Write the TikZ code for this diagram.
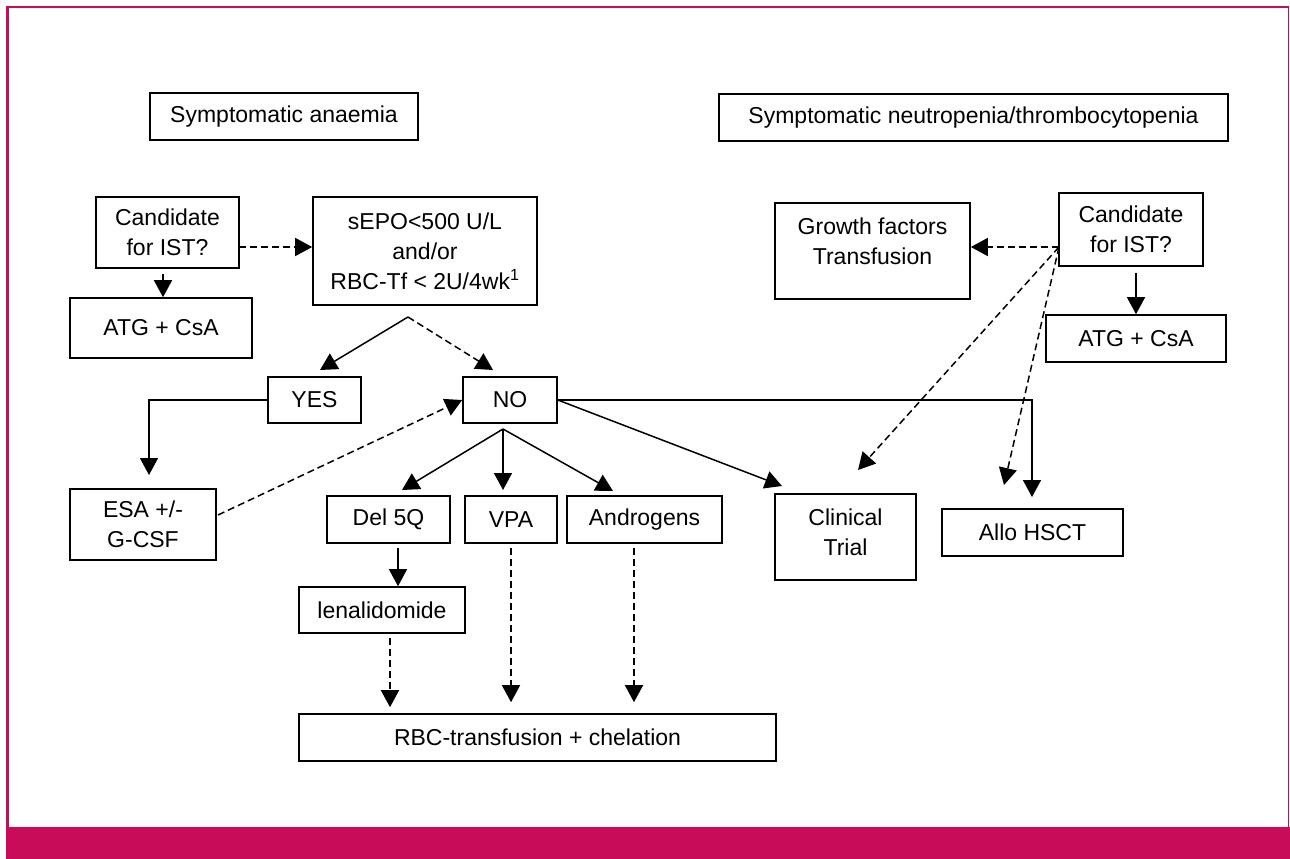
\documentclass[tikz,border=0pt]{standalone}
\usepackage{fontspec}
\setmainfont{Liberation Sans}
\usetikzlibrary{arrows.meta,calc}
\definecolor{framepink}{RGB}{200,12,90}
\begin{document}
\begin{tikzpicture}[x=1pt,y=-1pt,
  txt/.style={font=\fontsize{23}{30}\selectfont},
  box/.style={txt, draw, line width=1.6pt, inner sep=0pt, align=center},
  arr/.style={line width=1.5pt, -{Triangle[length=17pt,width=18pt]}},
  darr/.style={arr, dash pattern=on 7pt off 4pt}]
\useasboundingbox (0,0) rectangle (1290,859);
% frame
\draw[framepink, line width=2.5pt] (7.5,827) -- (7.5,7) -- (1289,7);
\draw[framepink, line width=1.2pt] (1288.5,7) -- (1288.5,827);
\fill[framepink] (6,827) rectangle (1290,859);

% nodes
\node[box, minimum width=268pt, minimum height=47pt] (anaemia) at (284,116.5) {Symptomatic anaemia};
\node[box, minimum width=509pt, minimum height=47pt] (neutro) at (973.5,117.5) {Symptomatic neutropenia/thrombocytopenia};
\node[box, minimum width=143pt, minimum height=71pt] (cand1) at (167.5,232.5) {Candidate\\for IST?};
\node[box, minimum width=224pt, minimum height=108pt] (sepo) at (425,251) {sEPO<500 U/L\\and/or\\RBC-Tf < 2U/4wk\textsuperscript{1}};
\node[box, minimum width=182pt, minimum height=60pt] (atg1) at (161,328) {ATG + CsA};
\node[box, minimum width=93pt, minimum height=46pt] (yes) at (314.5,400) {YES};
\node[box, minimum width=94pt, minimum height=46pt] (no) at (510,400) {NO};
\node[box, minimum width=146pt, minimum height=71pt] (esa) at (143,524.5) {ESA +/-\\G-CSF};
\node[box, minimum width=123pt, minimum height=47pt] (del5q) at (388.5,519.5) {Del 5Q};
\node[box, minimum width=92pt, minimum height=47pt] (vpa) at (511,519.5) {VPA};
\node[box, minimum width=155pt, minimum height=47pt] (andro) at (644.5,519.5) {Androgens};
\node[box, minimum width=141pt, minimum height=86pt] (clin) at (845.5,537) {};
\node[txt, align=center, inner sep=0pt] (clintxt) at (845.5,532) {Clinical\\Trial};
\node[box, minimum width=181pt, minimum height=47pt] (allo) at (1032.5,532.5) {Allo HSCT};
\node[box, minimum width=144pt, minimum height=73pt] (cand2) at (1131,229.5) {Candidate\\for IST?};
\node[box, minimum width=195pt, minimum height=96pt] (growth) at (872.5,251) {};
\node[txt, align=center, inner sep=0pt] (growthtxt) at (872.5,241) {Growth factors\\Transfusion};
\node[box, minimum width=180pt, minimum height=47pt] (atg2) at (1136,338.5) {ATG + CsA};
\node[box, minimum width=166pt, minimum height=46pt] (leni) at (382,610) {lenalidomide};
\node[box, minimum width=477pt, minimum height=47pt] (rbc) at (537.5,737.5) {RBC-transfusion + chelation};

% coordinates
\coordinate (peak) at (408,317);
\coordinate (t-yes) at (320,370);
\coordinate (t-no) at (493,370);
\coordinate (t-esa) at (149,475);
\coordinate (nofork) at (503,429);
\coordinate (t-del) at (402,490);
\coordinate (t-vpa) at (503,490);
\coordinate (t-andro) at (613,491);
\coordinate (t-clin) at (782,486);
\coordinate (t-allo) at (1032,497);
\coordinate (c2out) at (1059,247);
\coordinate (t-clin2) at (858,470);
\coordinate (t-allo2) at (1004,485);
\coordinate (c1out) at (239,247);
\coordinate (c1down) at (163,268);
\coordinate (d5down) at (398,543);
\coordinate (lendown) at (390,633);
\coordinate (vpadown) at (511,543);
\coordinate (andown) at (634,543);
\coordinate (esaout) at (218,515);

% connectors
\draw[darr] (c1out) -- (c1out -| sepo.west);
\draw[arr, shorten <=6pt] (c1down) -- (c1down |- atg1.north);
\draw[arr] (peak) -- (t-yes);
\draw[darr] (peak) -- (t-no);
\draw[arr] (yes.west) -| (t-esa);
\draw[darr] (esaout) -- (no.west);
\draw[arr] (nofork) -- (t-del);
\draw[arr] (nofork) -- (t-vpa);
\draw[arr] (nofork) -- (t-andro);
\draw[arr] (no.east) -- (t-clin);
\draw[arr] (no.east) -| (t-allo);
\draw[darr] (c2out) -- (c2out -| growth.east);
\draw[arr, shorten <=6pt] (cand2.south -| atg2.north) -- (atg2.north);
\draw[darr] (c2out) -- (t-clin2);
\draw[darr] (c2out) -- (t-allo2);
\draw[arr, shorten <=5pt] (d5down) -- (d5down |- leni.north);
\draw[darr, shorten <=5pt, shorten >=6pt] (lendown) -- (lendown |- rbc.north);
\draw[darr, shorten <=5pt, shorten >=11pt] (vpadown) -- (vpadown |- rbc.north);
\draw[darr, shorten <=5pt, shorten >=11pt] (andown) -- (andown |- rbc.north);
\end{tikzpicture}
\end{document}
